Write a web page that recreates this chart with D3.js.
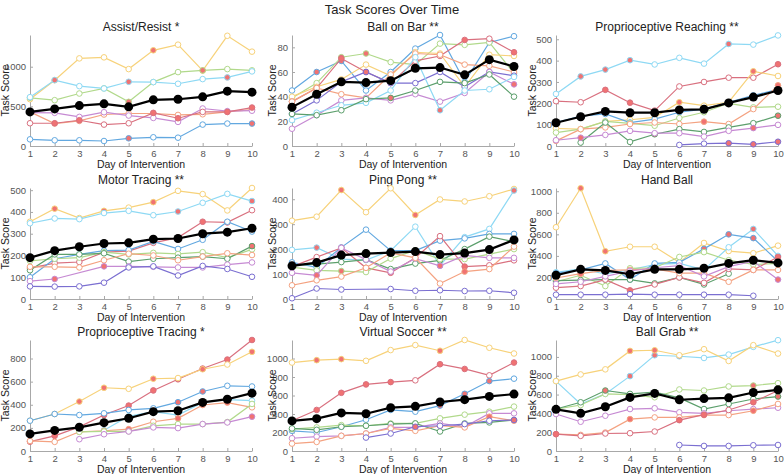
<!DOCTYPE html>
<html>
<head>
<meta charset="utf-8">
<script src="https://cdn.jsdelivr.net/npm/d3@7"></script>
<style>
  body { margin: 0; background: #fff; }
  text { font-family: "Liberation Sans", Arial, sans-serif; }
</style>
</head>
<body>
<script>
// days on x axis
const days = [1, 2, 3, 4, 5, 6, 7, 8, 9, 10];

const subjectColours = {
    blue: "#62a8e0",
    orange: "#f4a281",
    yellow: "#f7d27a",
    purple: "#c68ad3",
    green: "#b1d98b",
    lightBlue: "#8ed9f4",
    red: "#d9707f",
    darkPurple: "#7b6fd1",
    darkGreen: "#5c9f6c",
};
const hotFill = "#f07272";

const titles = [
    "Assist/Resist *", "Ball on Bar **", "Proprioceptive Reaching **",
    "Motor Tracing **", "Ping Pong **", "Hand Ball",
    "Proprioceptive Tracing *", "Virtual Soccer **", "Ball Grab **",
];
const yMaxes = [1400, 90, 520, 510, 445, 1030, 960, 1200, 1180];
const yTickSets = [
    [0, 500, 1000],
    [0, 20, 40, 60, 80],
    [0, 100, 200, 300, 400, 500],
    [0, 100, 200, 300, 400, 500],
    [0, 100, 200, 300, 400],
    [0, 200, 400, 600, 800, 1000],
    [0, 200, 400, 600, 800],
    [0, 200, 400, 600, 800, 1000],
    [0, 200, 400, 600, 800, 1000],
];

// ---- Assist/Resist
const assistResist = {
    yellow: [590, 830, 1105, 1118, 970, 1207, 1278, 950, 1390, 1190],
    green: [608, 578, 662, 726, 557, 806, 932, 954, 970, 954],
    lightBlue: [616, 831, 755, 726, 810, 806, 785, 844, 865, 941],
    orange: [430, 283, 316, 397, 410, 410, 392, 400, 430, 460],
    purple: [422, 418, 367, 426, 384, 354, 304, 473, 440, 445],
    red: [287, 287, 325, 270, 287, 418, 350, 430, 430, 485],
    blue: [84, 72, 72, 63, 97, 110, 105, 270, 283, 283],
};
const assistResistHot = { yellow: [6], green: [5, 8], lightBlue: [2, 5, 9], red: [2, 3, 6, 7, 9, 10], blue: [5, 10] };
const assistResistMean = [430, 468, 510, 532, 494, 582, 590, 620, 692, 679];

// ---- Ball on Bar
const ballOnBar = {
    blue: [45, 60, 69, 45, 60, 79, 90, 52, 84, 89],
    green: [39, 51, 72, 75, 68, 66, 83, 82, 84, 59],
    yellow: [40, 48, 54, 66, 57, 76, 75, 48, 74, 73],
    red: [36, 47, 71, 60, 51, 69, 73, 86, 87, 76],
    orange: [36, 47, 42, 39, 58, 75, 74, 66, 65, 60],
    darkPurple: [26, 37, 52, 60, 51, 51, 60, 48, 60, 57],
    purple: [14, 25, 37, 39, 37, 42, 36, 43, 60, 50],
    lightBlue: [21, 27, 33, 35, 45, 72, 29, 45, 46, 56],
    darkGreen: [26, 25, 29, 38, 39, 45, 52, 51, 58, 40],
};
const ballOnBarHot = { blue: [2, 3], green: [3, 4], red: [3, 4, 8, 10], darkPurple: [4], lightBlue: [7], darkGreen: [5], purple: [10] };
const ballOnBarMean = [31.5, 42, 52, 51.4, 53, 63, 63.6, 57.7, 70, 64.5];

// ---- Proprioceptive Reaching
const propReaching = {
    lightBlue: [244, 326, 358, 402, 382, 413, 386, 478, 475, 518],
    red: [210, 205, 263, 203, 166, 279, 300, 320, 320, 383],
    yellow: [82, 79, 115, 123, 134, 205, 189, 205, 350, 328],
    blue: [110, 140, 150, 110, 126, 158, 173, 205, 237, 265],
    green: [63, 79, 115, 106, 95, 131, 158, 200, 181, 184],
    orange: [24, 79, 87, 103, 110, 103, 114, 103, 173, 284],
    darkGreen: [null, 16, 110, 19, 55, 79, 66, 87, 107, 142],
    purple: [27, 39, 52, 71, 60, 60, 44, 71, 84, 99],
    darkPurple: [null, null, null, null, null, 5, 11, 13, 8, 20],
};
const propReachingHot = { lightBlue: [2, 3, 4, 8], red: [3, 4, 10], yellow: [6, 9], orange: [7, 10], darkGreen: [5, 10], purple: [2, 9], darkPurple: [8, 9, 10] };
const propReachingMean = [109, 137, 162, 156, 156, 169, 172, 202, 229, 260];

// ---- Motor Tracing
const motorTracing = {
    yellow: [355, 415, 372, 405, 420, 445, 497, 482, 407, 510],
    lightBlue: [348, 370, 367, 395, 405, 385, 402, 442, 483, 450],
    red: [142, 165, 170, 215, 220, 258, 282, 355, 352, 408],
    blue: [100, 185, 205, 222, 225, 265, 230, 272, 355, 310],
    green: [175, 185, 190, 215, 205, 212, 207, 215, 190, 228],
    darkGreen: [132, 205, 205, 210, 172, 185, 190, 195, 185, 243],
    orange: [148, 148, 145, 178, 208, 200, 178, 195, 210, 202],
    purple: [82, 92, null, 150, 150, 148, 145, 145, 158, 168],
    darkPurple: [58, 57, 58, 75, 145, 150, 108, 152, 138, 102],
};
const motorTracingHot = { yellow: [2, 4, 6], lightBlue: [7, 10], red: [4, 8, 9], darkGreen: [10], purple: [2, 4] };
const motorTracingMean = [190, 222, 240, 255, 258, 275, 278, 300, 307, 325];

// ---- Ping Pong
const pingPong = {
    yellow: [314, 330, 437, 348, 444, 337, 399, 391, 412, 441],
    lightBlue: [197, 206, 160, 156, 194, 290, 134, 248, 281, 435],
    blue: [147, 127, 207, 278, 194, 194, 234, 243, 261, 261],
    red: [130, 168, 205, 125, 105, 165, 252, 130, 135, 155],
    darkGreen: [135, 140, 148, 158, 120, 142, 155, 200, 250, 230],
    green: [128, 115, 112, 108, 162, 195, 160, 160, 180, 200],
    purple: [105, 95, 205, 158, 110, 162, 133, 175, 165, 165],
    orange: [55, 75, 90, 125, 185, 165, 62, 110, 120, 210],
    darkPurple: [3, 42, 38, null, 40, 33, 35, 32, 33, 25],
};
const pingPongHot = { yellow: [3, 6], lightBlue: [2, 10], red: [3, 5, 8], green: [3], purple: [2, 7], orange: [8] };
const pingPongMean = [133, 146, 176, 182, 186, 190, 178, 184, 198, 237];

// ---- Hand Ball
const handBall = {
    yellow: [666, 1028, 443, 485, 485, 340, 520, 445, 425, 495],
    lightBlue: [248, 280, 232, 270, 320, 330, 270, 480, 650, 400],
    blue: [240, 270, 330, 180, 330, 340, 465, 600, 565, 350],
    green: [160, 220, 120, 285, 290, 390, 435, 360, 320, 330],
    darkGreen: [170, 175, 180, 180, 145, 200, 135, 235, null, null],
    red: [105, 120, 180, 80, 135, 200, 150, 280, 270, 390],
    orange: [195, 235, 265, 270, 280, 240, 240, 160, 270, 270],
    purple: [140, 160, 210, 260, 290, 310, 210, 300, 350, 180],
    darkPurple: [40, 40, 40, 45, 40, 40, 40, 40, 30, null],
};
const handBallHot = { yellow: [2, 3], lightBlue: [9], blue: [7, 8, 9], red: [4, 9, 10], purple: [10], orange: [2] };
const handBallMean = [220, 275, 265, 230, 275, 275, 285, 330, 360, 335];

// ---- Proprioceptive Tracing
const propTracing = {
    red: [81, 131, 209, 311, 393, 524, 620, 713, 791, 960],
    yellow: [262, 320, 428, 547, 538, 625, 631, 707, 748, 858],
    blue: [262, 320, 311, 326, 355, 369, 422, 515, 564, 558],
    lightBlue: [null, null, null, 180, 300, 340, 310, 420, 445, 435],
    orange: [87, 79, 166, 175, 189, 253, 282, 398, 419, 378],
    green: [null, null, 166, 169, 169, 218, 233, 233, 250, 407],
    purple: [null, null, 102, 145, 169, 204, 198, 233, 247, 297],
};
const propTracingHot = { red: [1, 2, 4, 5, 6, 7, 8, 9, 10], yellow: [2, 3, 4, 6, 8, 10], blue: [7, 8], orange: [3, 5, 7, 8, 9], purple: [10] };
const propTracingMean = [148, 178, 205, 245, 283, 340, 348, 420, 448, 500];

// ---- Virtual Soccer
const virtualSoccer = {
    yellow: [956, 982, 993, 975, 1091, 1145, 1084, 1200, 1116, 1054],
    red: [327, 444, 629, 720, 745, 764, 938, 887, 818, 956],
    blue: [218, 200, 262, 338, 444, 425, 491, 618, 756, 782],
    green: [236, 255, 280, 273, 298, 298, 353, 393, 425, 480],
    darkGreen: [244, 229, 262, 273, 291, 298, 211, 298, 309, 335],
    purple: [138, 156, 164, 189, 255, 255, 298, 262, 407, 407],
    orange: [80, 98, 164, 189, 244, 218, 273, 255, 371, 327],
    darkPurple: [null, null, null, 145, 189, 262, 273, 291, 327, 335],
};
const virtualSoccerHot = { yellow: [2, 3, 7], red: [2, 3, 4, 5, 7, 8, 10], blue: [7, 8, 9], orange: [7, 9], darkPurple: [6, 10] };
const virtualSoccerMean = [325, 350, 412, 403, 468, 483, 530, 555, 590, 615];

// ---- Ball Grab
const ballGrab = {
    lightBlue: [743, 500, 607, 796, 1018, 1007, 989, 1025, 1107, 1178],
    yellow: [743, 814, 868, 1064, 1071, 1018, 1082, 957, 1125, 1036],
    green: [446, 489, 607, 600, 571, 654, 643, 686, 696, 721],
    darkGreen: [446, 518, 643, 607, 625, 564, 446, 500, 553, 579],
    purple: [393, 311, 375, 446, 454, 411, 400, 428, 446, 460],
    orange: [179, 171, 196, 339, 357, 357, 382, 382, 428, 500],
    red: [179, 161, 186, 189, 207, 328, 386, 436, 518, 643],
    darkPurple: [null, null, null, null, null, 64, 54, 54, 61, 64],
};
const ballGrabHot = { lightBlue: [4, 5, 6], yellow: [4, 5], green: [9], darkGreen: [3, 10], orange: [4, 9], red: [1, 6, 7, 9] };
const ballGrabMean = [443, 400, 470, 570, 612, 545, 557, 565, 622, 650];

const panelSeries = [assistResist, ballOnBar, propReaching, motorTracing, pingPong, handBall, propTracing, virtualSoccer, ballGrab];
const panelHot = [assistResistHot, ballOnBarHot, propReachingHot, motorTracingHot, pingPongHot, handBallHot, propTracingHot, virtualSoccerHot, ballGrabHot];
const panelMeans = [assistResistMean, ballOnBarMean, propReachingMean, motorTracingMean, pingPongMean, handBallMean, propTracingMean, virtualSoccerMean, ballGrabMean];

// layout
const width = 784;
const height = 474;
const colLeft = [30, 292, 556];
const rowTop = [35, 188, 340];
const yLabelOffset = [-21, -16, -20];
const plotW = 222;
const plotH = 111;

const svg = d3.select("body").append("svg")
    .attr("width", width)
    .attr("height", height);

svg.append("text")
    .text("Task Scores Over Time")
    .attr("x", width / 2)
    .attr("y", 14)
    .attr("text-anchor", "middle")
    .attr("font-size", "13px")
    .attr("fill", "#222");

function toPoints(vals) {
    return days.map((d, i) => ({ day: d, v: vals[i] })).filter((p) => p.v != null);
}

titles.forEach((title, i) => {
    const col = i % 3;
    const row = Math.floor(i / 3);
    const g = svg.append("g").attr("transform", `translate(${colLeft[col]},${rowTop[row]})`);

    const x = d3.scaleLinear().domain([1, 10]).range([0, plotW]);
    const y = d3.scaleLinear().domain([0, yMaxes[i]]).range([plotH, 0]);

    // axes (MATLAB style, ticks pointing in)
    const xAxis = g.append("g")
        .attr("transform", `translate(0,${plotH})`)
        .call(d3.axisBottom(x).tickValues(days).tickSize(-3).tickPadding(4).tickSizeOuter(0));
    const yAxis = g.append("g")
        .call(d3.axisLeft(y).tickValues(yTickSets[i]).tickFormat(d3.format("d"))
            .tickSize(-3).tickPadding(4).tickSizeOuter(0));
    [xAxis, yAxis].forEach((a) => {
        a.select(".domain").attr("stroke", "#a8a8a8");
        a.selectAll(".tick line").attr("stroke", "#a8a8a8");
        a.selectAll(".tick text")
            .attr("fill", "#555")
            .attr("font-size", "9.5px")
            .attr("font-family", "Liberation Sans, Arial, sans-serif");
    });

    g.append("text")
        .text(title)
        .attr("x", plotW / 2)
        .attr("y", -4)
        .attr("text-anchor", "middle")
        .attr("font-size", "12px")
        .attr("fill", "#222");

    g.append("text")
        .text("Day of Intervention")
        .attr("x", plotW / 2)
        .attr("y", plotH + 22)
        .attr("text-anchor", "middle")
        .attr("font-size", "10.5px")
        .attr("fill", "#222");

    g.append("text")
        .text("Task Score")
        .attr("transform", `translate(${yLabelOffset[col]},${plotH / 2}) rotate(-90)`)
        .attr("text-anchor", "middle")
        .attr("font-size", "10.5px")
        .attr("fill", "#222");

    const line = d3.line().x((d) => x(d.day)).y((d) => y(d.v));

    const series = panelSeries[i];
    const hot = panelHot[i];
    Object.keys(series).forEach((key) => {
        const pts = toPoints(series[key]);
        const colour = subjectColours[key];
        const hotDays = hot[key] || [];
        g.append("path")
            .datum(pts)
            .attr("d", line)
            .attr("fill", "none")
            .attr("stroke", colour)
            .attr("stroke-width", 1.2);
        g.selectAll(null)
            .data(pts)
            .enter()
            .append("circle")
            .attr("cx", (d) => x(d.day))
            .attr("cy", (d) => y(d.v))
            .attr("r", 2.8)
            .attr("fill", (d) => (hotDays.includes(d.day) ? hotFill : "#fff"))
            .attr("stroke", colour)
            .attr("stroke-width", 1);
    });

    // group mean
    const meanPts = toPoints(panelMeans[i]);
    g.append("path")
        .datum(meanPts)
        .attr("d", line)
        .attr("fill", "none")
        .attr("stroke", "#000")
        .attr("stroke-width", 2.2);
    g.selectAll(null)
        .data(meanPts)
        .enter()
        .append("circle")
        .attr("cx", (d) => x(d.day))
        .attr("cy", (d) => y(d.v))
        .attr("r", 4.5)
        .attr("fill", "#000");
});
</script>
</body>
</html>
